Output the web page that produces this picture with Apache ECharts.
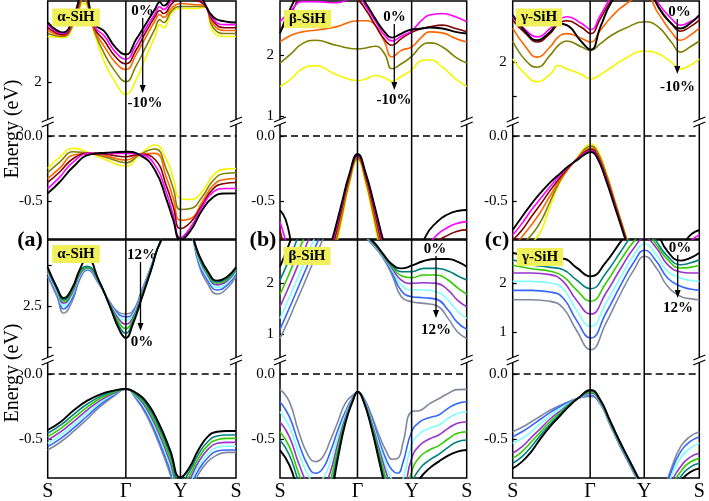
<!DOCTYPE html>
<html><head><meta charset="utf-8">
<script src="https://cdn.jsdelivr.net/npm/echarts@6/dist/echarts.min.js"></script>
<style>html,body{margin:0;padding:0;background:#fff}#c{width:709px;height:501px}</style>
</head><body><div id="c"></div>
<script>
// ---- high-symmetry path ----
const kPos = [0, 0.415, 0.705, 1];
const kLabels = ['S', 'Γ', 'Y', 'S'];
const fermiLevel = 0;
const strainTop = ['0%', '-2%', '-4%', '-6%', '-8%', '-10%'];
const strainBot = ['0%', '2%', '4%', '6%', '8%', '10%', '12%'];
const colorsTop = ['#000000', '#ff00ff', '#800000', '#ff6600', '#808000', '#f5f500'];
const colorsBot = ['#000000', '#008080', '#33cc00', '#9933cc', '#80ffff', '#3366ff', '#8088a0'];

// ---- (a) top: alpha-SiH, compressive ----
const xTopAUp = [0, 0.08, 0.14, 0.19, 0.25, 0.30, 0.36, 0.415, 0.47, 0.52, 0.57, 0.595, 0.615, 0.66, 0.705, 0.77, 0.83, 0.88, 0.94, 1];
const topAUp = [
 [2.515, 2.43, 2.58, 2.80, 2.50, 2.44, 2.30, 2.24, 2.37, 2.50, 2.63, 2.69, 2.66, 2.75, 2.88, 2.88, 2.69, 2.56, 2.525, 2.515],
 [2.497, 2.42, 2.566, 2.78, 2.48, 2.40, 2.26, 2.20, 2.325, 2.463, 2.59, 2.65, 2.627, 2.713, 2.80, 2.78, 2.68, 2.54, 2.497, 2.497],
 [2.47, 2.41, 2.55, 2.765, 2.463, 2.36, 2.22, 2.16, 2.28, 2.43, 2.566, 2.618, 2.592, 2.678, 2.73, 2.713, 2.67, 2.523, 2.47, 2.47],
 [2.446, 2.403, 2.53, 2.747, 2.446, 2.31, 2.17, 2.11, 2.24, 2.385, 2.53, 2.584, 2.558, 2.644, 2.678, 2.67, 2.66, 2.497, 2.446, 2.446],
 [2.42, 2.394, 2.515, 2.713, 2.43, 2.25, 2.09, 2.006, 2.144, 2.30, 2.463, 2.54, 2.515, 2.62, 2.653, 2.653, 2.653, 2.47, 2.42, 2.42],
 [2.394, 2.385, 2.497, 2.68, 2.41, 2.18, 1.997, 1.898, 2.023, 2.213, 2.394, 2.497, 2.47, 2.60, 2.635, 2.635, 2.644, 2.437, 2.394, 2.394]
];
const xTopALow = [0, 0.065, 0.136, 0.225, 0.313, 0.415, 0.49, 0.57, 0.632, 0.667, 0.705, 0.76, 0.82, 0.88, 0.94, 1];
const topALow = [
 [-0.44, -0.351, -0.236, -0.141, -0.128, -0.121, -0.146, -0.262, -0.492, -0.646, -0.795, -0.723, -0.569, -0.467, -0.441, -0.44],
 [-0.403, -0.313, -0.198, -0.133, -0.133, -0.133, -0.141, -0.223, -0.441, -0.608, -0.78, -0.698, -0.544, -0.428, -0.403, -0.403],
 [-0.356, -0.274, -0.172, -0.133, -0.141, -0.159, -0.141, -0.18, -0.39, -0.544, -0.71, -0.659, -0.531, -0.403, -0.364, -0.356],
 [-0.326, -0.244, -0.146, -0.133, -0.154, -0.185, -0.141, -0.133, -0.326, -0.48, -0.646, -0.633, -0.505, -0.377, -0.333, -0.326],
 [-0.282, -0.198, -0.121, -0.133, -0.164, -0.205, -0.141, -0.10, -0.262, -0.403, -0.564, -0.556, -0.467, -0.339, -0.287, -0.282],
 [-0.249, -0.159, -0.095, -0.133, -0.185, -0.231, -0.141, -0.069, -0.185, -0.326, -0.48, -0.487, -0.428, -0.30, -0.254, -0.249]
];

// ---- (b) top: beta-SiH, compressive ----
const xTopBUp = [0, 0.06, 0.12, 0.19, 0.3, 0.416, 0.46, 0.51, 0.56, 0.6, 0.65, 0.705, 0.76, 0.8, 0.87, 0.94, 1];
const topBUp = [
 [2.361, 2.806, 3.083, 3.19, 3.14, 3.03, 2.86, 2.61, 2.389, 2.294, 2.361, 2.428, 2.444, 2.46, 2.444, 2.389, 2.361],
 [2.556, 2.75, 2.89, 2.89, 2.87, 2.97, 2.806, 2.572, 2.333, 2.239, 2.317, 2.406, 2.583, 2.667, 2.694, 2.64, 2.556],
 [2.389, 2.694, 3.03, 3.14, 3.083, 2.917, 2.75, 2.5, 2.261, 2.167, 2.278, 2.383, 2.444, 2.472, 2.5, 2.444, 2.389],
 [2.222, 2.333, 2.389, 2.417, 2.472, 2.572, 2.572, 2.5, 2.222, 1.972, 2.083, 2.139, 2.306, 2.389, 2.372, 2.278, 2.222],
 [1.872, 2.028, 2.194, 2.25, 2.167, 2.106, 2.122, 2.15, 2.028, 1.778, 1.861, 1.983, 2.167, 2.206, 2.139, 1.972, 1.872],
 [1.483, 1.611, 1.778, 1.828, 1.683, 1.583, 1.611, 1.667, 1.628, 1.572, 1.65, 1.761, 1.917, 1.928, 1.806, 1.611, 1.483]
];
const xTopBLowG = [0.25, 0.29, 0.33, 0.37, 0.416, 0.46, 0.5, 0.54, 0.58];
const topBLowG = [
 [-0.95, -0.74, -0.52, -0.30, -0.138, -0.29, -0.50, -0.73, -0.95],
 [-0.99, -0.77, -0.54, -0.31, -0.145, -0.30, -0.52, -0.76, -0.99],
 [-1.02, -0.80, -0.56, -0.32, -0.15, -0.315, -0.54, -0.79, -1.02],
 [-1.06, -0.83, -0.59, -0.34, -0.16, -0.33, -0.57, -0.82, -1.06],
 [-1.1, -0.87, -0.62, -0.36, -0.17, -0.35, -0.60, -0.86, -1.1],
 [-1.14, -0.91, -0.65, -0.38, -0.18, -0.37, -0.63, -0.90, -1.14]
];
const xTopBLowL = [0, 0.03, 0.06, 0.09];
const topBLowL = [
 [-0.568, -0.64, -0.82, -1.0],
 [-0.657, -0.8, -0.95, -1.1],
 [-0.72, -0.9, -1.05, -1.2]
];
const xTopBLowR = [0.73, 0.78, 0.84, 0.9, 0.95, 1];
const topBLowR = [
 [-1.0, -0.77, -0.66, -0.6, -0.575, -0.568],
 [-1.1, -0.88, -0.76, -0.7, -0.67, -0.657],
 [-1.2, -1.0, -0.82, -0.76, -0.73, -0.72]
];

// ---- (c) top: gamma-SiH, compressive ----
const xTopCUp = [0, 0.07, 0.13, 0.2, 0.245, 0.29, 0.37, 0.418, 0.47, 0.53, 0.6, 0.707, 0.78, 0.85, 0.9, 0.95, 1];
const topCUp = [
 [2.692, 2.444, 2.32, 2.444, 2.568, 2.543, 2.295, 2.181, 2.518, 2.89, 3.114, 3.213, 2.816, 2.568, 2.494, 2.568, 2.692],
 [2.667, 2.469, 2.37, 2.494, 2.618, 2.667, 2.568, 2.479, 2.692, 2.965, 3.163, 3.213, 2.866, 2.642, 2.543, 2.593, 2.667],
 [2.618, 2.419, 2.295, 2.419, 2.558, 2.608, 2.508, 2.419, 2.642, 2.915, 3.114, 3.163, 2.816, 2.568, 2.454, 2.518, 2.618],
 [2.5, 2.221, 2.072, 2.221, 2.37, 2.419, 2.345, 2.295, 2.469, 2.667, 2.841, 2.99, 2.717, 2.444, 2.32, 2.394, 2.5],
 [2.31, 2.022, 1.923, 2.097, 2.246, 2.31, 2.221, 2.171, 2.27, 2.394, 2.494, 2.593, 2.518, 2.295, 2.146, 2.221, 2.31],
 [2.047, 1.814, 1.71, 1.814, 1.948, 1.898, 1.814, 1.75, 1.814, 1.923, 2.047, 2.161, 2.122, 1.998, 1.898, 1.948, 2.047]
];
const xTopCLow = [0, 0.05, 0.1, 0.15, 0.2, 0.25, 0.3, 0.35, 0.39, 0.418, 0.45, 0.5, 0.55, 0.6, 0.63];
const topCLow = [
 [-0.721, -0.619, -0.522, -0.435, -0.358, -0.292, -0.23, -0.179, -0.138, -0.123, -0.159, -0.338, -0.555, -0.777, -0.926],
 [-0.76, -0.67, -0.568, -0.478, -0.389, -0.307, -0.235, -0.174, -0.128, -0.113, -0.148, -0.325, -0.542, -0.767, -0.913],
 [-0.798, -0.721, -0.619, -0.522, -0.419, -0.325, -0.24, -0.171, -0.12, -0.102, -0.138, -0.312, -0.535, -0.76, -0.905],
 [-0.849, -0.772, -0.683, -0.581, -0.46, -0.343, -0.246, -0.169, -0.113, -0.092, -0.125, -0.299, -0.524, -0.752, -0.895],
 [-0.913, -0.836, -0.76, -0.657, -0.504, -0.353, -0.248, -0.164, -0.097, -0.077, -0.113, -0.286, -0.514, -0.742, -0.887],
 [-0.977, -0.9, -0.824, -0.734, -0.542, -0.363, -0.248, -0.159, -0.082, -0.061, -0.095, -0.274, -0.504, -0.734, -0.875]
];
const xTopCLowR = [0.9, 0.93, 0.96, 1];
const topCLowR = [
 [-0.9, -0.8, -0.75, -0.721],
 [-0.95, -0.87, -0.8, -0.76],
 [-1.0, -0.92, -0.85, -0.798]
];

// ---- (a) bottom: alpha-SiH, tensile ----
const xBotAUp = [0, 0.05, 0.085, 0.13, 0.17, 0.21, 0.27, 0.33, 0.38, 0.415, 0.45, 0.5, 0.55, 0.6, 0.705, 0.76, 0.8, 0.85, 0.9, 0.95, 1];
const botAUp = [
 [2.735, 2.61, 2.55, 2.61, 2.721, 2.791, 2.661, 2.5, 2.359, 2.309, 2.385, 2.55, 2.721, 2.892, 3.073, 2.952, 2.82, 2.711, 2.655, 2.675, 2.735],
 [2.727, 2.61, 2.54, 2.6, 2.711, 2.741, 2.657, 2.504, 2.379, 2.337, 2.399, 2.558, 2.725, 2.892, 3.073, 2.952, 2.815, 2.703, 2.647, 2.667, 2.727],
 [2.721, 2.604, 2.53, 2.59, 2.701, 2.735, 2.653, 2.508, 2.399, 2.365, 2.413, 2.566, 2.729, 2.892, 3.073, 2.952, 2.807, 2.695, 2.639, 2.659, 2.721],
 [2.715, 2.596, 2.518, 2.58, 2.691, 2.731, 2.649, 2.514, 2.419, 2.393, 2.427, 2.574, 2.733, 2.892, 3.073, 2.952, 2.8, 2.685, 2.629, 2.651, 2.715],
 [2.705, 2.586, 2.502, 2.566, 2.681, 2.727, 2.645, 2.518, 2.434, 2.415, 2.442, 2.582, 2.737, 2.892, 3.073, 2.952, 2.787, 2.671, 2.614, 2.639, 2.705],
 [2.695, 2.574, 2.484, 2.55, 2.671, 2.723, 2.641, 2.522, 2.448, 2.436, 2.454, 2.59, 2.741, 2.892, 3.073, 2.952, 2.775, 2.655, 2.598, 2.625, 2.695],
 [2.681, 2.556, 2.458, 2.53, 2.661, 2.719, 2.637, 2.526, 2.462, 2.454, 2.468, 2.598, 2.745, 2.892, 3.073, 2.952, 2.761, 2.635, 2.574, 2.606, 2.681]
];
const xBotALow = [0, 0.07, 0.14, 0.21, 0.28, 0.35, 0.415, 0.47, 0.53, 0.59, 0.65, 0.705, 0.75, 0.8, 0.85, 0.9, 0.95, 1];
const botALow = [
 [-0.431, -0.367, -0.277, -0.205, -0.156, -0.128, -0.115, -0.146, -0.226, -0.379, -0.585, -0.797, -0.726, -0.585, -0.482, -0.444, -0.438, -0.438],
 [-0.456, -0.392, -0.308, -0.231, -0.172, -0.133, -0.115, -0.154, -0.244, -0.405, -0.615, -0.841, -0.756, -0.618, -0.521, -0.477, -0.469, -0.469],
 [-0.482, -0.418, -0.336, -0.254, -0.187, -0.141, -0.115, -0.162, -0.262, -0.431, -0.646, -0.879, -0.79, -0.649, -0.551, -0.505, -0.495, -0.495],
 [-0.508, -0.444, -0.362, -0.277, -0.203, -0.149, -0.115, -0.169, -0.279, -0.456, -0.677, -0.918, -0.823, -0.679, -0.582, -0.533, -0.526, -0.526],
 [-0.533, -0.469, -0.387, -0.3, -0.218, -0.156, -0.115, -0.177, -0.297, -0.482, -0.708, -0.956, -0.854, -0.71, -0.613, -0.564, -0.556, -0.556],
 [-0.559, -0.495, -0.413, -0.323, -0.233, -0.164, -0.115, -0.185, -0.315, -0.508, -0.738, -0.995, -0.885, -0.741, -0.644, -0.592, -0.585, -0.585],
 [-0.585, -0.521, -0.438, -0.346, -0.249, -0.172, -0.115, -0.192, -0.333, -0.533, -0.769, -1.033, -0.918, -0.772, -0.674, -0.623, -0.603, -0.603]
];

// ---- (b) bottom: beta-SiH, tensile ----
const xBotBUpL = [0, 0.04, 0.08, 0.12, 0.16, 0.2, 0.24, 0.3];
const botBUpL = [
 [2.333, 2.695, 3.09, 3.45, 3.7, 3.9, 4.0, 4.0],
 [2.069, 2.398, 2.761, 3.156, 3.5, 3.8, 4.0, 4.0],
 [1.786, 2.115, 2.464, 2.827, 3.189, 3.5, 3.8, 4.0],
 [1.542, 1.872, 2.221, 2.576, 2.926, 3.255, 3.6, 4.0],
 [1.312, 1.641, 1.984, 2.333, 2.682, 3.024, 3.35, 3.8],
 [1.094, 1.43, 1.773, 2.122, 2.464, 2.814, 3.15, 3.6],
 [0.916, 1.232, 1.575, 1.918, 2.267, 2.616, 2.96, 3.4]
];
const xBotBUpR = [0.42, 0.5, 0.55, 0.6, 0.65, 0.705, 0.77, 0.84, 0.9, 0.95, 1];
const botBUpR = [
 [3.06, 2.827, 2.596, 2.379, 2.3, 2.352, 2.445, 2.484, 2.484, 2.431, 2.333],
 [3.06, 2.814, 2.583, 2.352, 2.234, 2.234, 2.3, 2.3, 2.247, 2.155, 2.069],
 [3.06, 2.8, 2.57, 2.326, 2.155, 2.115, 2.168, 2.168, 2.069, 1.918, 1.786],
 [3.06, 2.787, 2.557, 2.3, 2.069, 2.003, 2.016, 2.003, 1.872, 1.674, 1.542],
 [3.06, 2.774, 2.543, 2.267, 1.97, 1.872, 1.872, 1.839, 1.674, 1.457, 1.312],
 [3.06, 2.761, 2.53, 2.221, 1.858, 1.74, 1.72, 1.687, 1.476, 1.232, 1.094],
 [3.06, 2.748, 2.517, 2.168, 1.74, 1.641, 1.608, 1.562, 1.312, 1.048, 0.916]
];
const xBotBLow = [0, 0.05, 0.1, 0.15, 0.19, 0.23, 0.27, 0.31, 0.35, 0.39, 0.416, 0.45, 0.49, 0.53, 0.57, 0.6, 0.63, 0.66, 0.705, 0.75, 0.8, 0.85, 0.9, 0.95, 1];
const botBLow = [
 [-0.585, -0.7, -0.905, -1.072, -1.136, -1.097, -0.944, -0.649, -0.379, -0.208, -0.136, -0.221, -0.418, -0.664, -0.918, -1.085, -1.226, -1.213, -0.931, -0.803, -0.726, -0.674, -0.628, -0.597, -0.585],
 [-0.508, -0.623, -0.828, -0.995, -1.059, -1.021, -0.879, -0.61, -0.367, -0.203, -0.136, -0.215, -0.403, -0.633, -0.867, -1.021, -1.136, -1.123, -0.841, -0.726, -0.662, -0.618, -0.564, -0.521, -0.508],
 [-0.444, -0.559, -0.764, -0.931, -0.995, -0.956, -0.815, -0.572, -0.354, -0.197, -0.136, -0.21, -0.387, -0.603, -0.815, -0.956, -1.046, -1.021, -0.751, -0.636, -0.585, -0.551, -0.5, -0.456, -0.444],
 [-0.367, -0.482, -0.687, -0.854, -0.918, -0.879, -0.751, -0.533, -0.336, -0.192, -0.136, -0.205, -0.372, -0.572, -0.764, -0.892, -0.956, -0.918, -0.649, -0.546, -0.5, -0.469, -0.418, -0.379, -0.367],
 [-0.29, -0.405, -0.61, -0.777, -0.841, -0.803, -0.674, -0.482, -0.315, -0.187, -0.136, -0.2, -0.354, -0.541, -0.713, -0.815, -0.867, -0.803, -0.546, -0.456, -0.418, -0.392, -0.341, -0.303, -0.29],
 [-0.213, -0.328, -0.533, -0.705, -0.764, -0.726, -0.597, -0.431, -0.29, -0.179, -0.136, -0.195, -0.336, -0.508, -0.662, -0.738, -0.764, -0.674, -0.444, -0.367, -0.336, -0.315, -0.264, -0.226, -0.213],
 [-0.118, -0.213, -0.444, -0.623, -0.674, -0.636, -0.508, -0.367, -0.224, -0.162, -0.141, -0.187, -0.315, -0.469, -0.597, -0.656, -0.649, -0.521, -0.29, -0.28, -0.23, -0.19, -0.15, -0.12, -0.118]
];

// ---- (c) bottom: gamma-SiH, tensile ----
const xBotCUp = [0, 0.1, 0.2, 0.27, 0.34, 0.418, 0.5, 0.58, 0.65, 0.707, 0.77, 0.83, 0.9, 0.95, 1];
const botCUp = [
 [2.631, 2.563, 2.494, 2.514, 2.335, 2.149, 2.445, 2.872, 3.217, 3.423, 3.079, 2.666, 2.473, 2.528, 2.631],
 [2.494, 2.39, 2.335, 2.287, 2.08, 1.894, 2.218, 2.666, 3.045, 3.217, 2.872, 2.563, 2.39, 2.425, 2.494],
 [2.377, 2.307, 2.253, 2.149, 1.874, 1.633, 2.012, 2.494, 2.872, 3.079, 2.804, 2.494, 2.321, 2.335, 2.377],
 [2.218, 2.218, 2.184, 2.046, 1.667, 1.371, 1.805, 2.321, 2.735, 2.941, 2.735, 2.39, 2.239, 2.218, 2.218],
 [2.046, 2.046, 2.012, 1.894, 1.461, 1.116, 1.598, 2.149, 2.597, 2.817, 2.597, 2.253, 2.115, 2.067, 2.046],
 [1.86, 1.86, 1.826, 1.702, 1.254, 0.875, 1.392, 1.977, 2.445, 2.687, 2.459, 2.115, 1.943, 1.888, 1.86],
 [1.667, 1.667, 1.633, 1.495, 1.047, 0.634, 1.185, 1.805, 2.287, 2.563, 2.321, 1.943, 1.736, 1.688, 1.667]
];
const xBotCLow = [0, 0.05, 0.1, 0.15, 0.2, 0.25, 0.3, 0.35, 0.418, 0.47, 0.52, 0.57, 0.62, 0.67, 0.72];
const botCLow = [
 [-0.726, -0.674, -0.597, -0.495, -0.405, -0.328, -0.251, -0.187, -0.123, -0.2, -0.354, -0.508, -0.649, -0.79, -0.931],
 [-0.687, -0.636, -0.559, -0.469, -0.387, -0.315, -0.244, -0.187, -0.131, -0.205, -0.359, -0.513, -0.654, -0.795, -0.936],
 [-0.649, -0.597, -0.521, -0.444, -0.367, -0.303, -0.238, -0.187, -0.138, -0.21, -0.364, -0.518, -0.659, -0.8, -0.941],
 [-0.61, -0.559, -0.487, -0.418, -0.346, -0.29, -0.233, -0.187, -0.146, -0.215, -0.369, -0.523, -0.664, -0.805, -0.946],
 [-0.533, -0.495, -0.444, -0.379, -0.321, -0.269, -0.226, -0.187, -0.154, -0.221, -0.374, -0.528, -0.669, -0.81, -0.951],
 [-0.482, -0.444, -0.397, -0.346, -0.297, -0.254, -0.218, -0.187, -0.162, -0.226, -0.379, -0.533, -0.674, -0.815, -0.956],
 [-0.444, -0.41, -0.367, -0.323, -0.279, -0.244, -0.213, -0.187, -0.172, -0.233, -0.387, -0.541, -0.682, -0.823, -0.964]
];
const xBotCLowR = [0.8, 0.85, 0.9, 0.95, 1];
const botCLowR = [
 [-1.187, -0.956, -0.828, -0.756, -0.726],
 [-1.136, -0.918, -0.79, -0.718, -0.687],
 [-1.097, -0.879, -0.751, -0.679, -0.649],
 [-1.059, -0.841, -0.713, -0.641, -0.61],
 [-1.008, -0.79, -0.644, -0.572, -0.533],
 [-0.969, -0.751, -0.597, -0.521, -0.482],
 [-0.944, -0.726, -0.559, -0.482, -0.444]
];

// ---- layout ----
const serif = '"Liberation Serif", "DejaVu Serif", serif';
const panels = [
 {left: 47.7, width: 188.3, top: 1, mid: 123, bottom: 239, upR: [1.65, 2.7], lowR: [-0.79, 0.1], upLab: [2], upTick: [2], colors: colorsTop,
  up: [[xTopAUp, topAUp]], low: [[xTopALow, topALow]], name: 'α-SiH', nx: 76, ny: 17.5},
 {left: 280, width: 186.7, top: 1, mid: 123, bottom: 239, upR: [0.88, 2.9], lowR: [-0.79, 0.1], upLab: [1, 2], upTick: [1, 2], colors: colorsTop,
  up: [[xTopBUp, topBUp]], low: [[xTopBLowG, topBLowG], [xTopBLowL, topBLowL], [xTopBLowR, topBLowR]], name: 'β-SiH', nx: 307.5, ny: 19},
 {left: 512.7, width: 186.6, top: 1, mid: 123, bottom: 239, upR: [1.1, 2.9], lowR: [-0.79, 0.1], upLab: [2], upTick: [1.5, 2], colors: colorsTop,
  up: [[xTopCUp, topCUp]], low: [[xTopCLow, topCLow], [xTopCLowR, topCLowR]], name: 'γ-SiH', nx: 539, ny: 17.5},
 {left: 47.7, width: 188.3, top: 240, mid: 361, bottom: 478, upR: [2.17, 2.9], lowR: [-0.8, 0.1], upLab: [2.5], upTick: [2.25, 2.5, 2.75], colors: colorsBot,
  up: [[xBotAUp, botAUp]], low: [[xBotALow, botALow]], name: 'α-SiH', nx: 76, ny: 254, xLabels: true},
 {left: 280, width: 186.7, top: 240, mid: 361, bottom: 478, upR: [0.47, 2.86], lowR: [-0.8, 0.1], upLab: [1, 2], upTick: [1, 2], colors: colorsBot,
  up: [[xBotBUpL, botBUpL], [xBotBUpR, botBUpR]], low: [[xBotBLow, botBLow]], name: 'β-SiH', nx: 307, ny: 256, xLabels: true},
 {left: 512.7, width: 186.6, top: 240, mid: 361, bottom: 478, upR: [0.4, 2.9], lowR: [-0.8, 0.1], upLab: [1, 2], upTick: [1, 2], colors: colorsBot,
  up: [[xBotCUp, botCUp]], low: [[xBotCLow, botCLow], [xBotCLowR, botCLowR]], name: 'γ-SiH', nx: 540, ny: 257, xLabels: true}
];

const grid = [], xAxis = [], yAxis = [], series = [], elements = [];
const labelStyle = {fontFamily: serif, fontSize: 15, color: '#000'};

panels.forEach((p, pi) => {
  const gi = pi * 3;
  grid.push({left: p.left, top: p.top, width: p.width, height: p.bottom - p.top, show: true, borderColor: '#000', borderWidth: 1.5, backgroundColor: 'transparent', containLabel: false, outerBoundsMode: 'none'});
  grid.push({left: p.left, top: p.top, width: p.width, height: p.mid - p.top, containLabel: false, outerBoundsMode: 'none'});
  grid.push({left: p.left, top: p.mid, width: p.width, height: p.bottom - p.mid, containLabel: false, outerBoundsMode: 'none'});
  xAxis.push({gridIndex: gi, type: 'value', min: 0, max: 1, axisLine: {show: false}, axisTick: {show: false}, splitLine: {show: false},
    axisLabel: p.xLabels ? {customValues: kPos, formatter: v => kLabels[kPos.indexOf(v)] || '', fontFamily: serif, fontSize: 20, color: '#000', margin: 4} : {show: false}});
  yAxis.push({gridIndex: gi, type: 'value', min: 0, max: 1, show: false});
  xAxis.push({gridIndex: gi + 1, type: 'value', min: 0, max: 1, show: false});
  xAxis.push({gridIndex: gi + 2, type: 'value', min: 0, max: 1, show: false});
  yAxis.push({gridIndex: gi + 1, type: 'value', min: p.upR[0], max: p.upR[1], axisLine: {show: false}, splitLine: {show: false},
    axisTick: {show: true, inside: true, length: 4, customValues: p.upTick, lineStyle: {color: '#000', width: 1.2}},
    axisLabel: Object.assign({customValues: p.upLab, formatter: v => String(v), margin: 6}, labelStyle)});
  yAxis.push({gridIndex: gi + 2, type: 'value', min: p.lowR[0], max: p.lowR[1], axisLine: {show: false}, splitLine: {show: false},
    axisTick: {show: true, inside: true, length: 4, customValues: [0, -0.5], lineStyle: {color: '#000', width: 1.2}},
    axisLabel: Object.assign({customValues: [0, -0.5], formatter: v => v.toFixed(1), margin: 5}, labelStyle)});

  [kPos[1], kPos[2]].forEach(k => {
    series.push({type: 'line', xAxisIndex: gi, yAxisIndex: gi, data: [[k, 0], [k, 1]], symbol: 'none', silent: true,
      lineStyle: {color: '#000', width: 1.5}, z: 5});
  });
  series.push({type: 'line', xAxisIndex: gi + 2, yAxisIndex: gi + 2, data: [[0, fermiLevel], [1, fermiLevel]], symbol: 'none', silent: true,
    lineStyle: {color: '#000', width: 1.5, type: [7, 4]}, z: 5});

  const addBands = (bands, ai) => {
    bands.forEach(([xs, curves]) => {
      for (let c = curves.length - 1; c >= 0; c--) {
        series.push({type: 'line', xAxisIndex: ai, yAxisIndex: ai, name: (p.colors === colorsTop ? strainTop : strainBot)[c],
          data: xs.map((x, i) => [x, curves[c][i]]), symbol: 'none', smooth: 0.5, clip: true, silent: true,
          lineStyle: {color: p.colors[c], width: c === 0 ? 1.9 : 1.6}, z: 3});
      }
    });
  };
  addBands(p.up, gi + 1);
  addBands(p.low, gi + 2);

  [p.left, p.left + p.width].forEach(X => {
    const Y = p.mid;
    elements.push({type: 'polygon', z: 50, shape: {points: [[X - 6, Y - 1], [X + 6, Y - 6], [X + 6, Y - 1], [X - 6, Y + 4]]}, style: {fill: '#fff'}});
    elements.push({type: 'line', z: 51, shape: {x1: X - 6, y1: Y - 1, x2: X + 6, y2: Y - 6}, style: {stroke: '#000', lineWidth: 1.3}});
    elements.push({type: 'line', z: 51, shape: {x1: X - 6, y1: Y + 4, x2: X + 6, y2: Y - 1}, style: {stroke: '#000', lineWidth: 1.3}});
  });
  elements.push({type: 'text', z: 60, x: p.nx, y: p.ny, style: {text: p.name, font: 'bold 15px ' + serif, fill: '#000',
    backgroundColor: '#f0f05a', padding: [2, 5, 1, 5], align: 'center', verticalAlign: 'middle'}});
});

const annos = [
 {x: 142.7, y1: 18, y2: 93, top: '0%', tx: 142.5, ty: 11, bot: '-10%', bx: 145, by: 103},
 {x: 394.3, y1: 24, y2: 90, top: '0%', tx: 394.5, ty: 17, bot: '-10%', bx: 394, by: 100},
 {x: 677.3, y1: 19, y2: 74, top: '0%', tx: 679.5, ty: 12, bot: '-10%', bx: 677.5, by: 87.5},
 {x: 140.5, y1: 262, y2: 331, top: '12%', tx: 142, ty: 255, bot: '0%', bx: 142, by: 342},
 {x: 436, y1: 256, y2: 318, top: '0%', tx: 435, ty: 249, bot: '12%', bx: 436, by: 330},
 {x: 677.7, y1: 255, y2: 298, top: '0%', tx: 680, ty: 248.5, bot: '12%', bx: 678, by: 308}
];
annos.forEach(a => {
  elements.push({type: 'line', z: 60, shape: {x1: a.x, y1: a.y1, x2: a.x, y2: a.y2 - 5}, style: {stroke: '#000', lineWidth: 1.3}});
  elements.push({type: 'polygon', z: 60, shape: {points: [[a.x - 3, a.y2 - 8], [a.x + 3, a.y2 - 8], [a.x, a.y2]]}, style: {fill: '#000'}});
  elements.push({type: 'text', z: 60, x: a.tx, y: a.ty, style: {text: a.top, font: 'bold 15px ' + serif, fill: '#000', align: 'center', verticalAlign: 'middle'}});
  elements.push({type: 'text', z: 60, x: a.bx, y: a.by, style: {text: a.bot, font: 'bold 15px ' + serif, fill: '#000', align: 'center', verticalAlign: 'middle'}});
});
[['(a)', 30, 240], ['(b)', 263, 240], ['(c)', 497, 240]].forEach(([t, x, y]) => {
  elements.push({type: 'text', z: 60, x, y, style: {text: t, font: 'bold 22px ' + serif, fill: '#000', align: 'center', verticalAlign: 'middle'}});
});
[129, 373].forEach(y => {
  elements.push({type: 'text', z: 60, x: 13, y, rotation: Math.PI / 2, style: {text: 'Energy (eV)', font: '20px ' + serif, fill: '#000', align: 'center', verticalAlign: 'middle'}});
});

const chart = echarts.init(document.getElementById('c'), null, {renderer: 'canvas', width: 709, height: 501});
chart.setOption({animation: false, backgroundColor: '#fff', grid, xAxis, yAxis, series, graphic: {elements}});
</script></body></html>
